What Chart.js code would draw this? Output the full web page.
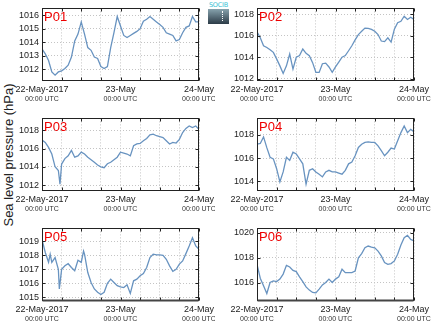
<!DOCTYPE html>
<html>
<head>
<meta charset="utf-8">
<script src="https://cdn.jsdelivr.net/npm/chart.js@4.4.0/dist/chart.umd.min.js"></script>
<style>
  body { margin: 0; background: #fff; width: 434px; height: 327px; overflow: hidden; position: relative;
         font-family: 'Liberation Sans', Arial, sans-serif; }
  canvas { position: absolute; }
  #ytitle { position: absolute; left: 8px; top: 155px; transform: translate(-50%, -50%) rotate(-90deg);
            white-space: nowrap; font-size: 13px; color: #222; }
  #logo { position: absolute; left: 208px; top: 2px; width: 21px; }
  #logo .t { font: 6.5px 'DejaVu Sans', sans-serif; color: #3ac2d4; text-align: center; line-height: 7px; letter-spacing: -0.2px; }
  #logo .b { height: 15px; background: linear-gradient(#86a2ad, #2c3b47); position: relative; }
  #logo .b::after { content: ''; position: absolute; left: 14px; top: 2px; height: 10px; border-left: 1px dotted #fff; }
</style>
</head>
<body>
<div id="ytitle">Sea level pressure (hPa)</div>
<div id="logo"><div class="t">SOCIB</div><div class="b"></div></div>

<script>
// datos (horas desde 22-May-2017 00:00 UTC)
const stations = ['P01', 'P02', 'P03', 'P04', 'P05', 'P06'];

const hours = [0,1,2,3,4,5,6,7,8,9,10,11,12,13,14,15,16,17,18,19,20,21,22,23,24,
               25,26,27,28,29,30,31,32,33,34,35,36,37,38,39,40,41,42,43,44,45,46,47,48];
const hoursP03 = [0,1,2,3,4,5,5.5,6,7,8,9,10,11,12,13,14,15,16,17,18,19,20,21,22,23,24,
                  25,26,27,28,29,30,31,32,33,34,35,36,37,38,39,40,41,42,43,44,45,46,47,48];
const hoursP05 = [0,1,2,2.5,3,4,5,5.3,6,7,8,9,10,11,12,12.7,13,14,15,16,17,18,19,20,21,22,23,24,
                  25,26,27,28,29,30,31,32,33,34,35,36,37,38,39,40,41,42,43,44,45,46,47,48];

const p01 = [1013.5,1013.14,1012.65,1011.8,1011.56,1011.8,1011.88,1012.05,1012.3,1012.9,
             1014.1,1014.6,1015.5,1014.6,1013.6,1013.4,1012.9,1012.8,1012.2,1012.05,
             1012.2,1013.6,1014.7,1015.9,1015.2,1014.5,1014.35,1014.5,1014.65,1014.8,
             1015.0,1015.55,1015.7,1015.9,1015.7,1015.5,1015.3,1015.1,1014.7,1014.6,
             1014.5,1014.1,1014.2,1014.7,1015.1,1015.2,1015.9,1015.5,1015.5];
const p02 = [1016.36,1015.8,1015.06,1014.9,1014.7,1014.45,1013.85,1013.2,1012.5,1013.2,
             1014.3,1012.9,1014.0,1014.15,1014.76,1014.36,1014.15,1013.5,1012.6,1012.6,
             1013.4,1013.45,1013.1,1012.6,1013.1,1013.55,1014.0,1014.15,1014.6,1015.06,
             1015.6,1016.1,1016.4,1016.7,1016.67,1016.58,1016.4,1016.1,1015.5,1015.45,
             1015.8,1015.4,1016.6,1017.2,1017.33,1017.8,1017.5,1017.7,1017.5];
const p03 = [1016.92,1016.67,1016.13,1015.4,1014.0,1013.6,1012.1,
             1014.3,1014.9,1015.2,1015.8,1015.05,1015.2,1015.6,1015.4,1015.05,1014.77,
             1014.5,1014.2,1014.0,1013.9,1014.33,1014.5,1014.77,1015.05,1015.6,1015.5,
             1015.4,1015.2,1016.3,1016.5,1016.56,1016.85,1017.1,1017.5,1017.57,1017.4,
             1017.3,1017.2,1016.85,1016.5,1016.67,1016.6,1017.0,1017.75,1018.2,1018.47,
             1018.3,1018.47,1018.1];
const p04 = [1017.2,1017.26,1017.83,1016.9,1016.07,1015.93,1015.08,1013.94,1014.8,1016.07,
             1015.8,1016.5,1016.35,1015.93,1015.5,1013.74,1014.94,1015.08,1014.8,1014.6,
             1014.37,1014.8,1014.94,1014.8,1014.8,1014.7,1014.6,1014.94,1015.5,1015.65,
             1016.2,1016.92,1017.2,1017.35,1017.4,1017.35,1017.35,1017.06,1016.64,1016.2,
             1016.5,1016.86,1016.78,1017.5,1018.2,1018.77,1018.2,1018.48,1018.28];
const p05 = [1019.14,1018.2,1017.5,1018.08,1017.5,1017.84,1017.0,1015.6,1017.0,1017.25,
             1017.4,1017.13,1016.9,1017.65,1017.5,1018.3,
             1018.08,1016.77,1016.06,1015.6,1015.36,1015.2,1015.36,1016.0,1016.3,1016.06,
             1015.83,1015.75,1015.7,1015.9,1015.28,1016.18,1016.3,1016.54,1016.7,1017.13,
             1017.84,1018.08,1018.03,1018.03,1018.0,1017.72,1017.25,1016.85,1017.0,1017.37,
             1017.6,1018.12,1018.67,1019.26,1018.67,1018.43];
const p06 = [1017.48,1016.37,1015.76,1015.15,1016.03,1016.16,1016.1,1016.3,1016.7,1017.4,
             1017.27,1017.0,1016.9,1016.48,1016.1,1015.68,1015.42,1015.23,1015.2,1015.5,
             1015.84,1016.03,1016.3,1016.03,1016.3,1016.48,1017.09,1016.82,1016.82,1016.82,
             1016.95,1018.0,1018.33,1018.8,1018.94,1018.86,1018.8,1018.54,1018.15,1017.62,
             1017.48,1017.54,1017.75,1018.28,1019.02,1019.6,1019.8,1019.47,1019.34];

const seriesHours = [hours, hours, hoursP03, hours, hoursP05, hours];
const seriesValues = [p01, p02, p03, p04, p05, p06];

// ejes
const yMin = [1011.13, 1011.8, 1011.35, 1013.15, 1014.74, 1014.55];
const yMax = [1016.5, 1018.52, 1019.3, 1019.43, 1019.92, 1020.35];
const yStep = [1, 2, 2, 2, 1, 2];
const xTickHours = [0, 24, 48];
const xTickDates = ['22-May-2017', '23-May', '24-May'];
const xTickTime = '00:00 UTC';

const FONT = "'Liberation Sans', Arial, sans-serif";

// marco, marcas interiores, nombre de la estación y etiquetas de fecha
const panelDeco = {
    id: 'panelDeco',
    afterDraw(chart, args, opts) {
        const { ctx, chartArea: a, scales: { x, y } } = chart;
        const L = Math.round(a.left) + 0.5, R = Math.round(a.right) - 0.5;
        const T = Math.round(a.top) + 0.5, B = Math.round(a.bottom) - 0.5;
        ctx.save();
        ctx.strokeStyle = '#222';
        ctx.lineWidth = 1;
        ctx.beginPath();
        x.ticks.forEach(t => {
            const px = Math.round(x.getPixelForValue(t.value)) + 0.5;
            ctx.moveTo(px, B); ctx.lineTo(px, B - 3);
            ctx.moveTo(px, T); ctx.lineTo(px, T + 3);
        });
        y.ticks.forEach(t => {
            const py = Math.round(y.getPixelForValue(t.value)) + 0.5;
            ctx.moveTo(L, py); ctx.lineTo(L + 3, py);
            ctx.moveTo(R, py); ctx.lineTo(R - 3, py);
        });
        ctx.stroke();
        ctx.strokeRect(L, T, R - L, B - T);
        if (opts.thickBottom) {
            ctx.strokeStyle = '#444';
            ctx.lineWidth = 2;
            ctx.beginPath();
            ctx.moveTo(L, B); ctx.lineTo(R, B);
            ctx.stroke();
        }

        ctx.fillStyle = '#ee0000';
        ctx.font = '13px ' + FONT;
        ctx.textAlign = 'left';
        ctx.textBaseline = 'alphabetic';
        ctx.fillText(opts.name, a.left + 2, a.top + 13);

        ctx.textAlign = 'center';
        xTickHours.forEach((h, i) => {
            const px = x.getPixelForValue(h);
            ctx.fillStyle = '#222';
            ctx.font = '9px ' + FONT;
            ctx.fillText(xTickDates[i], px, a.bottom + 11);
            ctx.fillStyle = '#333';
            ctx.font = '7px ' + FONT;
            ctx.fillText(xTickTime, px, a.bottom + 20);
        });
        ctx.restore();
    }
};

document.addEventListener('DOMContentLoaded', () => {
    stations.forEach((name, i) => {
        const col = i % 2, row = Math.floor(i / 2);
        const canvas = document.createElement('canvas');
        const w = col === 0 ? 215 : 219;
        canvas.width = w;
        canvas.height = 110;
        canvas.style.left = (col === 0 ? 0 : 215) + 'px';
        canvas.style.top = (row * 110) + 'px';
        document.body.appendChild(canvas);

        const pts = seriesHours[i].map((h, k) => ({ x: h, y: seriesValues[i][k] }));

        try {
            new Chart(canvas.getContext('2d'), {
                type: 'line',
                data: {
                    datasets: [{
                        data: pts,
                        borderColor: '#6893c0',
                        borderWidth: 1.3,
                        pointRadius: 0,
                        tension: 0,
                        fill: false
                    }]
                },
                options: {
                    responsive: false,
                    animation: false,
                    layout: { padding: { top: 7, right: w - 42 - 157, left: 0, bottom: 0 } },
                    plugins: {
                        legend: { display: false },
                        tooltip: { enabled: false },
                        panelDeco: { name: name, thickBottom: row === 2 }
                    },
                    scales: {
                        x: {
                            type: 'linear', min: 0, max: 48,
                            ticks: { display: false, stepSize: 6 },
                            grid: { color: '#c4c4c4', drawTicks: false, lineWidth: 1 },
                            border: { display: false, dash: [1, 2] },
                            afterFit: s => { s.height = 29; }
                        },
                        y: {
                            min: yMin[i], max: yMax[i],
                            ticks: {
                                stepSize: yStep[i], includeBounds: false, padding: 3,
                                color: '#222', font: { family: FONT, size: 9 },
                                callback: v => String(v)
                            },
                            grid: { color: '#c4c4c4', drawTicks: false, lineWidth: 1 },
                            border: { display: false, dash: [1, 2] },
                            afterFit: s => { s.width = 42; }
                        }
                    }
                },
                plugins: [panelDeco]
            });
        } catch (e) {
            console.error('Error al crear la gráfica ' + name, e);
        }
    });
});
</script>
</body>
</html>
